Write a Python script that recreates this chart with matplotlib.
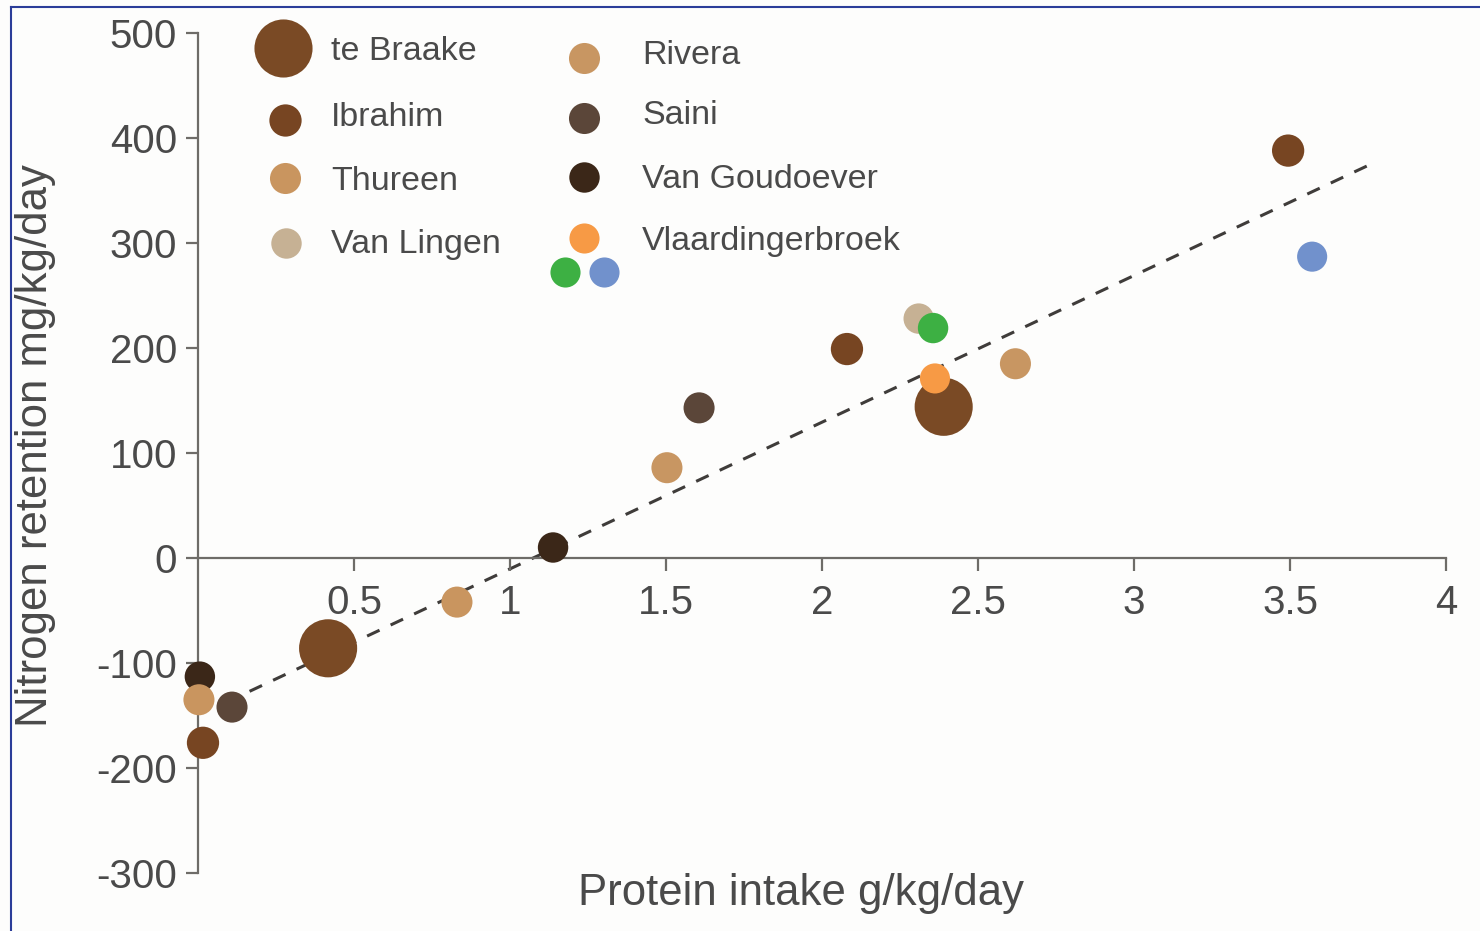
import matplotlib
matplotlib.use("Agg")
import matplotlib.pyplot as plt
from matplotlib.lines import Line2D

plt.rcParams['font.family'] = ['Liberation Sans', 'DejaVu Sans']
plt.rcParams['axes.unicode_minus'] = False

# data
studies = ["te Braake", "Ibrahim", "Thureen", "Van Lingen",
           "Rivera", "Saini", "Van Goudoever", "Vlaardingerbroek"]
colors = {
    "te Braake": "#7a4a25",
    "Ibrahim": "#774522",
    "Thureen": "#c9955f",
    "Van Lingen": "#c6b194",
    "Rivera": "#c89662",
    "Saini": "#5b4639",
    "Van Goudoever": "#3b2718",
    "Vlaardingerbroek": "#f79a45",
}
vl_extra_colors = ["#3db043", "#7191cc"]

braake_x = [0.417, 2.39]
braake_y = [-86, 144]
ibrahim_x = [0.016, 2.08, 3.494]
ibrahim_y = [-176, 199, 388]
thureen_x = [0.003, 0.83]
thureen_y = [-135, -42]
vanlingen_x = [2.31]
vanlingen_y = [228]
rivera_x = [1.503, 2.62]
rivera_y = [86, 185]
saini_x = [0.109, 1.606]
saini_y = [-142, 143]
goudoever_x = [0.006, 1.138]
goudoever_y = [-113, 10]
vlaar_x = [2.362]
vlaar_y = [171]
vlaar_green_x = [2.356]
vlaar_green_y = [219]
vlaar_blue_x = [3.571]
vlaar_blue_y = [287]

fit_x = [0.09, 3.75]
fit_y = [-137.5, 373.8]

series = [
    ("Van Goudoever", goudoever_x, goudoever_y, colors["Van Goudoever"], 480),
    ("Thureen", thureen_x, thureen_y, colors["Thureen"], 500),
    ("Saini", saini_x, saini_y, colors["Saini"], 500),
    ("Ibrahim", ibrahim_x, ibrahim_y, colors["Ibrahim"], 540),
    ("Rivera", rivera_x, rivera_y, colors["Rivera"], 500),
    ("Van Lingen", vanlingen_x, vanlingen_y, colors["Van Lingen"], 480),
    ("green", vlaar_green_x, vlaar_green_y, vl_extra_colors[0], 480),
    ("te Braake", braake_x, braake_y, colors["te Braake"], 1750),
    ("Vlaardingerbroek", vlaar_x, vlaar_y, colors["Vlaardingerbroek"], 470),
    ("blue", vlaar_blue_x, vlaar_blue_y, vl_extra_colors[1], 470),
]

W, H = 1480, 931
fig = plt.figure(figsize=(W / 100, H / 100), dpi=100, facecolor="#fdfdfc")
ax = fig.add_axes([198 / W, 58 / H, 1248 / W, 840 / H])
ax.set_facecolor("none")

txt = "#4a4a4a"
axc = "#6e6c68"

ax.plot(fit_x, fit_y, linestyle=(0, (4.5, 4)), color="#3f3c3a", lw=2.2, zorder=1)

for name, xs, ys, c, s in series:
    ax.scatter(xs, ys, s=s, color=c, edgecolors="none", zorder=3, clip_on=False)

ax.set_xlim(0, 4)
ax.set_ylim(-300, 500)
ax.spines["top"].set_visible(False)
ax.spines["right"].set_visible(False)
ax.spines["bottom"].set_position(("data", 0))
for sp in ("left", "bottom"):
    ax.spines[sp].set_color(axc)
    ax.spines[sp].set_linewidth(1.6)

ax.set_xticks([0.5, 1, 1.5, 2, 2.5, 3, 3.5, 4])
ax.set_xticklabels(["0.5", "1", "1.5", "2", "2.5", "3", "3.5", "4"])
ax.set_yticks(range(-300, 501, 100))
ax.tick_params(axis="x", direction="out", length=9, width=1.6, color=axc,
               labelsize=29, labelcolor=txt, pad=10)
ax.tick_params(axis="y", direction="out", length=9, width=1.6, color=axc,
               labelsize=29, labelcolor=txt, pad=6)

fig.text(801 / W, 1 - 893 / H, "Protein intake g/kg/day", ha="center", va="center",
         fontsize=31.5, color=txt)
fig.text(36 / W, 1 - 446 / H, "Nitrogen retention mg/kg/day", ha="center", va="center",
         rotation=90, fontsize=31.5, color=txt)

# hand-made legend, positions in figure pixels
leg_col1 = [("te Braake", 283, 48, 52, 1750), ("Ibrahim", 285, 120, 118, 540),
            ("Thureen", 285, 178, 182, 500), ("Van Lingen", 286, 243, 245, 480)]
leg_col2 = [("Rivera", 584, 58, 55, 500), ("Saini", 584, 118, 116, 500),
            ("Van Goudoever", 584, 177, 180, 480), ("Vlaardingerbroek", 584, 238, 242, 470)]
for items, tx in ((leg_col1, 331), (leg_col2, 642)):
    for name, mx, my, ty, s in items:
        fig.add_artist(Line2D([mx / W], [1 - my / H], marker="o", linestyle="none",
                              markersize=s ** 0.5, color=colors[name], markeredgewidth=0))
        fig.text(tx / W, 1 - ty / H, name, ha="left", va="center", fontsize=24.5, color=txt)
for (mx, my), c in zip([(565, 272), (604, 272)], vl_extra_colors):
    fig.add_artist(Line2D([mx / W], [1 - my / H], marker="o", linestyle="none",
                          markersize=470 ** 0.5, color=c, markeredgewidth=0))

# blue frame of the original screenshot (top and left edges)
fig.add_artist(Line2D([11 / W, 1], [1 - 7 / H, 1 - 7 / H], color="#2b3d99", lw=1.5))
fig.add_artist(Line2D([11 / W, 11 / W], [1 - 7 / H, 0], color="#2b3d99", lw=1.5))

fig.savefig("out.png", dpi=100, facecolor=fig.get_facecolor())
